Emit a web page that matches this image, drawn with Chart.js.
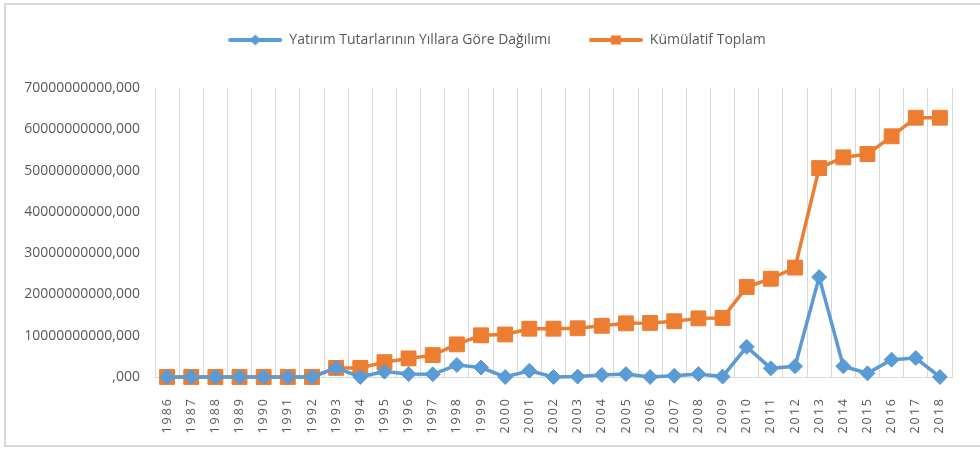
<!DOCTYPE html>
<html>
<head>
<meta charset="utf-8">
<script src="https://cdn.jsdelivr.net/npm/chart.js@4"></script>
<style>
  html, body { margin: 0; padding: 0; background: #fff; overflow: hidden; }
  #wrap { position: relative; width: 980px; height: 451px; }
  #frame { position: absolute; left: 4px; top: 3px; width: 1000px; height: 444px; border: 2px solid #d9d9d9; box-sizing: border-box; }
  canvas { position: absolute; left: 0; top: 0; }
</style>
</head>
<body>
<div id="wrap">
  <div id="frame"></div>
  <canvas id="yatirimChart" width="980" height="451"></canvas>
</div>
<script>
// Yıllar (kategori ekseni)
const yillar = [
  "1986", "1987", "1988", "1989", "1990", "1991", "1992", "1993", "1994", "1995", "1996",
  "1997", "1998", "1999", "2000", "2001", "2002", "2003", "2004", "2005", "2006", "2007",
  "2008", "2009", "2010", "2011", "2012", "2013", "2014", "2015", "2016", "2017", "2018"
];

// Yıllık yatırım tutarları (resimden okunan yaklaşık değerler)
const yillikTutar = [
  0, 0, 0, 0, 0, 0, 0, 2.2e9, 0, 1.3e9, 0.7e9,
  0.65e9, 2.9e9, 2.3e9, 0, 1.5e9, 0, 0.1e9, 0.5e9, 0.7e9, 0, 0.3e9,
  0.7e9, 0.1e9, 7.3e9, 2.1e9, 2.6e9, 24.2e9, 2.6e9, 0.9e9, 4.2e9, 4.6e9, 0
];

// Kümülatif toplam
const kumulatifToplam = [
  0, 0, 0, 0, 0, 0, 0, 2.2e9, 2.2e9, 3.6e9, 4.5e9,
  5.3e9, 7.9e9, 10.1e9, 10.3e9, 11.7e9, 11.7e9, 11.8e9, 12.4e9, 13.0e9, 13.1e9, 13.5e9,
  14.2e9, 14.3e9, 21.8e9, 23.8e9, 26.5e9, 50.6e9, 53.2e9, 54.0e9, 58.3e9, 62.8e9, 62.8e9
];

// Y ekseni değerleri
const yTikleri = [0, 10e9, 20e9, 30e9, 40e9, 50e9, 60e9, 70e9];

const MAVI = "#5b9bd5";
const TURUNCU = "#ed7d31";
const GRI_YAZI = "#595959";
const GRI_CIZGI = "#d9d9d9";

// Lejant simgesi: çizgi + ortada işaretçi
function lejantSimgesi(renk, sekil) {
  const c = document.createElement("canvas");
  c.width = 54;
  c.height = 14;
  const g = c.getContext("2d");
  g.strokeStyle = renk;
  g.lineWidth = 4;
  g.lineCap = "round";
  g.beginPath();
  g.moveTo(2, 7);
  g.lineTo(52, 7);
  g.stroke();
  g.fillStyle = renk;
  g.beginPath();
  if (sekil === "elmas") {
    g.moveTo(27, 1.5); g.lineTo(32.5, 7); g.lineTo(27, 12.5); g.lineTo(21.5, 7);
  } else {
    g.rect(22, 2.5, 10, 9);
  }
  g.closePath();
  g.fill();
  return c;
}

const simgeler = [lejantSimgesi(MAVI, "elmas"), lejantSimgesi(TURUNCU, "kare")];

// X ekseni yazılarında harf aralığı, lejantın yerini biraz kaydır
const duzenleme = {
  id: "duzenleme",
  afterLayout(chart) {
    const lg = chart.legend;
    lg.left += 24;
    lg.top -= 31;
    lg.bottom -= 31;
    const s = chart.scales.x;
    if (s._aralikli) return;
    const asil = s.drawLabels.bind(s);
    s.drawLabels = function (alan) {
      const ctx = this.ctx;
      ctx.save();
      ctx.letterSpacing = "2px";
      asil(alan);
      ctx.restore();
    };
    s._aralikli = true;
  }
};

const ctx = document.getElementById("yatirimChart").getContext("2d");
new Chart(ctx, {
  type: "line",
  data: {
    labels: yillar,
    datasets: [
      {
        label: "Yatırım Tutarlarının Yıllara Göre Dağılımı",
        data: yillikTutar,
        borderColor: MAVI,
        backgroundColor: MAVI,
        borderWidth: 3.5,
        pointStyle: "rectRot",
        pointRadius: 7.5,
        pointBorderWidth: 1,
        tension: 0,
        clip: false
      },
      {
        label: "Kümülatif Toplam",
        data: kumulatifToplam,
        borderColor: TURUNCU,
        backgroundColor: TURUNCU,
        borderWidth: 3.5,
        pointStyle: "rect",
        pointRadius: 10.5,
        pointBorderWidth: 1,
        tension: 0,
        clip: false
      }
    ]
  },
  options: {
    responsive: false,
    animation: false,
    layout: { padding: { left: 18, right: 28, top: 26, bottom: 0 } },
    plugins: {
      tooltip: { enabled: false },
      legend: {
        position: "top",
        labels: {
          usePointStyle: true,
          pointStyleWidth: 54,
          padding: 38,
          color: GRI_YAZI,
          font: { family: "'Open Sans'", size: 14 },
          generateLabels(chart) {
            return chart.data.datasets.map((ds, i) => ({
              text: ds.label,
              pointStyle: simgeler[i],
              fillStyle: ds.borderColor,
              strokeStyle: ds.borderColor,
              lineWidth: 0,
              fontColor: GRI_YAZI,
              hidden: false,
              datasetIndex: i
            }));
          }
        }
      }
    },
    scales: {
      x: {
        offset: true,
        grid: { offset: true, color: GRI_CIZGI, lineWidth: 1, drawTicks: false },
        border: { color: GRI_CIZGI, width: 1 },
        ticks: {
          autoSkip: false,
          minRotation: 90,
          maxRotation: 90,
          padding: 20,
          color: GRI_YAZI,
          font: { family: "'Open Sans'", size: 12.5 }
        },
        afterFit(scale) { scale.height = 74; }
      },
      y: {
        min: 0,
        max: 70e9,
        grid: { display: false, drawTicks: false },
        border: { display: false },
        afterBuildTicks(scale) { scale.ticks = yTikleri.map((v) => ({ value: v })); },
        ticks: {
          padding: 15,
          color: GRI_YAZI,
          font: { family: "'Open Sans'", size: 14 },
          callback: (v) => (v === 0 ? ",000" : String(v) + ",000")
        },
        afterFit(scale) { scale.width = 137; }
      }
    }
  },
  plugins: [duzenleme]
});
</script>
</body>
</html>
